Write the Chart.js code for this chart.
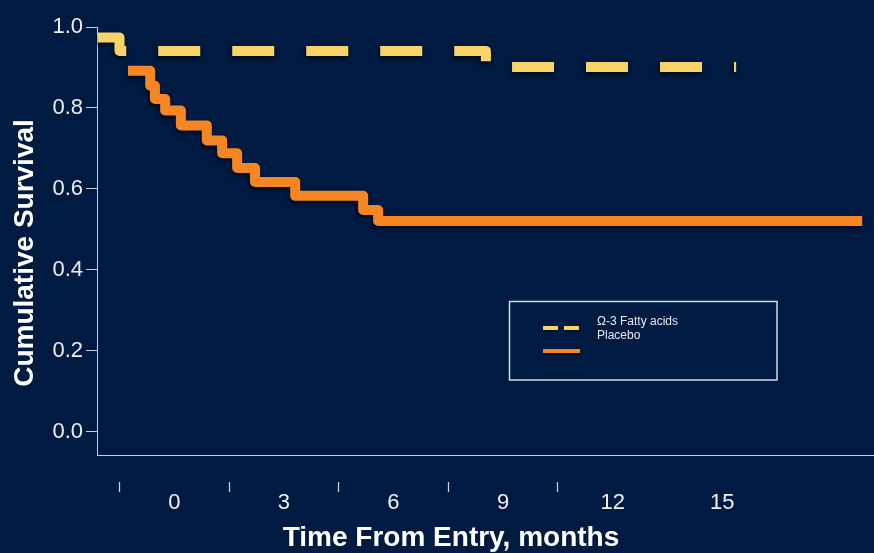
<!DOCTYPE html>
<html>
<head>
<meta charset="utf-8">
<script src="https://cdn.jsdelivr.net/npm/chart.js@4.4.1/dist/chart.umd.min.js"></script>
<style>
  html, body { margin: 0; padding: 0; background: #011a42; }
  #wrap { width: 874px; height: 553px; }
  canvas { display: block; }
</style>
</head>
<body>
<div id="wrap"><canvas id="km" width="874" height="553"></canvas></div>
<script>
// Kaplan–Meier step curves: time in months, cumulative survival
const fattyAcidMonths   = [-2.10, -1.50, 8.53, 15.38];
const fattyAcidSurvival = [0.974, 0.941, 0.901, 0.901];
const placeboMonths     = [-1.27, -0.66, -0.53, -0.25, 0.18, 0.89, 1.31, 1.72, 2.21, 3.31, 5.17, 5.58, 18.83];
const placeboSurvival   = [0.892, 0.855, 0.822, 0.794, 0.757, 0.720, 0.688, 0.652, 0.617, 0.583, 0.548, 0.521, 0.521];
const seriesNames  = ['Ω-3 Fatty acids', 'Placebo'];
const xLabelMonths = [0, 3, 6, 9, 12, 15];
const xMarkMonths  = [-1.5, 1.5, 4.5, 7.5, 10.5];
const yTickValues  = [0, 0.2, 0.4, 0.6, 0.8, 1.0];
const xTitle = 'Time From Entry, months';
const yTitle = 'Cumulative Survival';

const FONT   = '"Liberation Sans", Arial, Helvetica, sans-serif';
const YELLOW = '#f8d366';
const ORANGE = '#f68624';
const AXIS   = '#c9ced8';
const TEXT   = '#eef0f3';

const toPoints = (xs, ys) => xs.map((x, i) => ({ x, y: ys[i] }));

// soft drop shadow under the survival curves
const lineShadow = {
  id: 'lineShadow',
  beforeDatasetDraw(chart) {
    const c = chart.ctx;
    c.save();
    c.shadowColor = 'rgba(0,0,0,0.6)';
    c.shadowBlur = 4;
    c.shadowOffsetX = -1;
    c.shadowOffsetY = 3;
  },
  afterDatasetDraw(chart) { chart.ctx.restore(); }
};

// axis titles and the boxed key
const annotations = {
  id: 'annotations',
  afterDraw(chart) {
    const c = chart.ctx;
    const ds = chart.data.datasets;
    c.save();
    c.fillStyle = '#ffffff';
    c.font = 'bold 28px ' + FONT;
    c.textAlign = 'center';
    c.textBaseline = 'middle';
    c.fillText(xTitle, 451, 538);
    c.save();
    c.translate(25.5, 253);
    c.rotate(-Math.PI / 2);
    c.fillText(yTitle, 0, 0);
    c.restore();

    // key box
    c.strokeStyle = '#d5d9e0';
    c.lineWidth = 1.5;
    c.strokeRect(509.5, 301.5, 267.5, 78.5);

    c.shadowColor = 'rgba(0,0,0,0.55)';
    c.shadowBlur = 2;
    c.shadowOffsetY = 1.5;
    c.lineWidth = 4;
    c.lineCap = 'butt';
    c.strokeStyle = ds[0].borderColor;
    c.setLineDash([15, 6]);
    c.beginPath(); c.moveTo(543, 328); c.lineTo(580, 328); c.stroke();
    c.setLineDash([]);
    c.strokeStyle = ds[1].borderColor;
    c.beginPath(); c.moveTo(543, 351); c.lineTo(580, 351); c.stroke();
    c.shadowColor = 'rgba(0,0,0,0)';

    c.fillStyle = '#e6e8ec';
    c.font = '12px ' + FONT;
    c.textAlign = 'left';
    c.textBaseline = 'alphabetic';
    c.fillText(ds[0].label, 597, 324.5);
    c.fillText(ds[1].label, 597, 339);
    c.restore();
  }
};

new Chart(document.getElementById('km'), {
  type: 'line',
  data: {
    datasets: [
      {
        label: seriesNames[0],
        data: toPoints(fattyAcidMonths, fattyAcidSurvival),
        borderColor: YELLOW,
        borderWidth: 10,
        borderDash: [42, 32],
        borderCapStyle: 'butt',
        borderJoinStyle: 'round',
        stepped: 'before',
        pointRadius: 0,
        fill: false
      },
      {
        label: seriesNames[1],
        data: toPoints(placeboMonths, placeboSurvival),
        borderColor: ORANGE,
        borderWidth: 10,
        borderCapStyle: 'butt',
        borderJoinStyle: 'round',
        stepped: 'before',
        pointRadius: 0,
        fill: false
      }
    ]
  },
  options: {
    responsive: false,
    animation: false,
    devicePixelRatio: 1,
    layout: { padding: { top: 27, right: 0, bottom: 0, left: 0 } },
    plugins: { legend: { display: false }, tooltip: { enabled: false } },
    scales: {
      x: {
        type: 'linear',
        position: 'bottom',
        min: -2.116,
        max: 19.154,
        afterBuildTicks: s => {
          s.ticks = [...xMarkMonths, ...xLabelMonths].sort((a, b) => a - b).map(v => ({ value: v }));
        },
        afterFit: s => { s.height = 98; },
        border: { display: true, color: AXIS, width: 1 },
        grid: {
          drawOnChartArea: false,
          drawTicks: true,
          tickLength: 37,
          tickWidth: 1.3,
          tickColor: ctx => (ctx.tick && xMarkMonths.includes(ctx.tick.value)) ? AXIS : 'rgba(0,0,0,0)',
          tickBorderDash: [11, 1000],
          tickBorderDashOffset: -26
        },
        ticks: {
          autoSkip: false,
          maxRotation: 0,
          padding: 0,
          color: TEXT,
          font: { family: FONT, size: 22, lineHeight: 1 },
          callback: v => xLabelMonths.includes(v) ? String(v) : ''
        }
      },
      y: {
        type: 'linear',
        position: 'left',
        min: -0.057,
        max: 1.0,
        afterBuildTicks: s => { s.ticks = yTickValues.map(v => ({ value: v })); },
        afterFit: s => { s.width = 97; },
        border: { display: true, color: AXIS, width: 1 },
        grid: { drawOnChartArea: false, tickLength: 11, tickColor: AXIS, tickWidth: 1 },
        ticks: {
          padding: 3,
          color: TEXT,
          font: { family: FONT, size: 22 },
          callback: v => v.toFixed(1)
        }
      }
    }
  },
  plugins: [lineShadow, annotations]
});
</script>
</body>
</html>
